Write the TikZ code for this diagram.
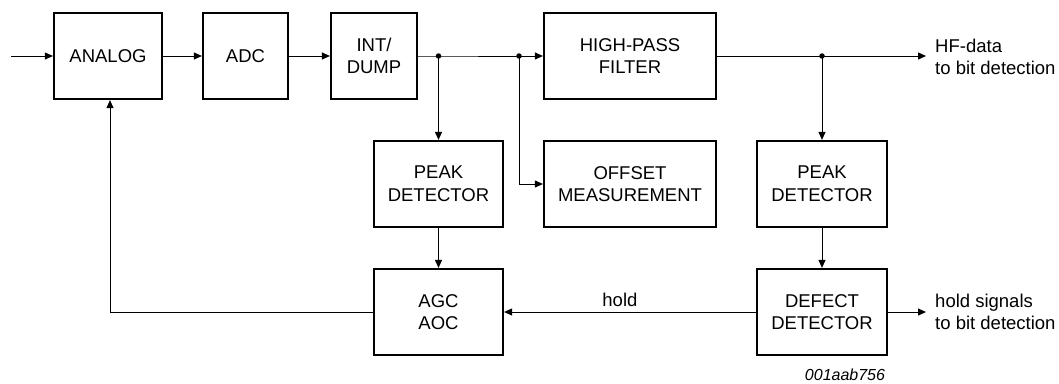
\documentclass[tikz,border=0pt]{standalone}
\usepackage{fontspec}
\setmainfont{Liberation Sans}
\usetikzlibrary{arrows.meta}
\begin{document}
\begin{tikzpicture}[x=1pt,y=-1pt,
  blk/.style={draw,line width=2.2pt,inner sep=0pt,minimum height=86pt,align=center,
    font=\fontsize{18.5}{22.7}\selectfont},
  conn/.style={line width=1pt},
  arr/.style={line width=1pt,-{Triangle[length=8pt,width=7pt]}},
  lbl/.style={font=\fontsize{18.5}{22.7}\selectfont,align=left,inner sep=0pt},
  dotc/.style={circle,fill,inner sep=0pt,minimum size=5.5pt}]
\useasboundingbox (0,0) rectangle (1059,383);
% top row
\node[blk,minimum width=108pt] (analog) at (108,56) {ANALOG};
\node[blk,minimum width=85pt] (adc) at (245.5,56) {ADC};
\node[blk,minimum width=86pt] (intd) at (374,56) {INT/\\DUMP};
\node[blk,minimum width=172pt] (hpf) at (630,56) {HIGH-PASS\\FILTER};
% middle row
\node[blk,minimum width=129pt] (peak1) at (438.5,184) {PEAK\\DETECTOR};
\node[blk,minimum width=172pt] (offs) at (630,184) {OFFSET\\MEASUREMENT};
\node[blk,minimum width=130pt] (peak2) at (822,184) {PEAK\\DETECTOR};
% bottom row
\node[blk,minimum width=129pt] (agc) at (438.5,312) {AGC\\AOC};
\node[blk,minimum width=130pt] (defect) at (822,312) {DEFECT\\DETECTOR};
% junctions and free ends
\node[dotc] (d1) at (438.5,56) {};
\node[dotc] (d2) at (519,56) {};
\node[dotc] (d3) at (822,56) {};
\coordinate (in) at (11,56);
\coordinate (hfout) at (926,56);
\coordinate (holdout) at (926,312);
\coordinate (fb) at (110,312);
% connectors
\draw[arr] (in) -- (analog.west);
\draw[arr] (analog.east) -- (adc.west);
\draw[arr] (adc.east) -- (intd.west);
\draw[conn] (intd.east) -- (d1.center) -- (d2.center);
\draw[arr] (d2.center) -- (hpf.west);
\draw[arr] (d1.center) -- (peak1.north);
\draw[arr] (d2.center) |- (offs.west);
\draw[conn] (hpf.east) -- (d3.center);
\draw[arr] (d3.center) -- (hfout);
\draw[arr] (d3.center) -- (peak2.north);
\draw[arr] (peak1.south) -- (agc.north);
\draw[arr] (peak2.south) -- (defect.north);
\draw[arr] (defect.west) -- node[lbl,above=5pt,pos=0.54] (holdlbl) {hold} (agc.east);
\draw[arr] (defect.east) -- (holdout);
\draw[arr] (agc.west) -- (fb) -- (fb |- analog.south);
% labels
\node[lbl,anchor=west] (hftxt) at ([xshift=9pt,yshift=-1pt]hfout) {HF-data\\to bit detection};
\node[lbl,anchor=west] (holdtxt) at ([xshift=9pt]holdout) {hold signals\\to bit detection};
\node[font=\fontsize{16}{19}\selectfont\itshape,inner sep=0pt] (code) at (845,375) {001aab756};
\end{tikzpicture}
\end{document}
